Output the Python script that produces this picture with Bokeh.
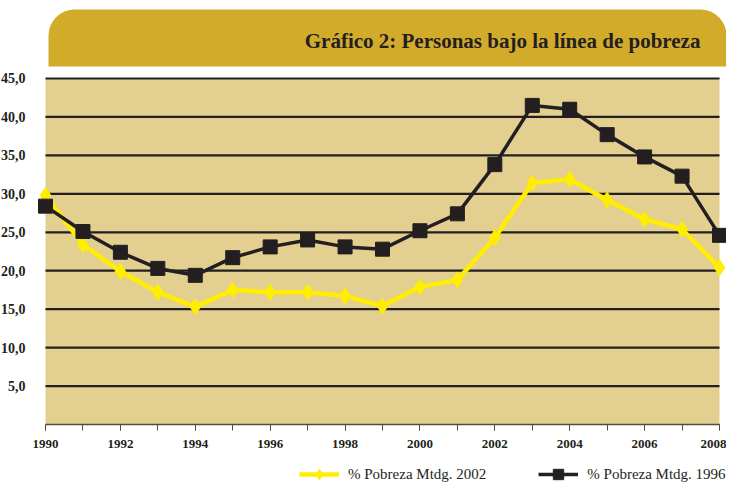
from bokeh.plotting import figure
from bokeh.models import (BoxAnnotation, Label, Legend, LegendItem, FixedTicker, Range1d)
from bokeh.embed import file_html
from bokeh.resources import INLINE

years = list(range(1990, 2009))
pobreza_2002 = [29.8, 23.4, 19.9, 17.2, 15.3, 17.5, 17.2, 17.2, 16.7, 15.4,
                17.9, 18.8, 24.3, 31.4, 31.9, 29.2, 26.7, 25.4, 20.4]
pobreza_1996 = [28.4, 25.1, 22.4, 20.3, 19.4, 21.7, 23.1, 24.0, 23.1, 22.8,
                25.2, 27.4, 33.8, 41.5, 41.0, 37.7, 34.8, 32.3, 24.6]
y_ticks = [5, 10, 15, 20, 25, 30, 35, 40, 45]
y_tick_labels = ["5,0", "10,0", "15,0", "20,0", "25,0", "30,0", "35,0", "40,0", "45,0"]
x_label_years = list(range(1990, 2009, 2))
title_text = "Gráfico 2: Personas bajo la línea de pobreza"
series_names = ["% Pobreza Mtdg. 2002", "% Pobreza Mtdg. 1996"]

FONT = "Liberation Serif"
DARK = "#231F20"
YMAX = 55.144
YMIN = -7.803
XMIN = 1988.798
XMAX = 2008.187

p = figure(width=726, height=484, output_backend="svg", toolbar_location=None,
           x_range=Range1d(XMIN, XMAX), y_range=Range1d(YMIN, YMAX),
           min_border_left=0, min_border_right=0, min_border_top=0, min_border_bottom=0)
p.outline_line_color = None
p.background_fill_color = "white"
p.border_fill_color = "white"

# banner and plot background
p.add_layout(BoxAnnotation(left=1990.08, right=XMAX, bottom=46.56, top=53.97,
                           fill_color="#D3AB2B", fill_alpha=1, line_color=None,
                           border_radius=(26, 26, 0, 0), level="image"))
p.add_layout(BoxAnnotation(left=years[0], right=years[-1], bottom=0, top=y_ticks[-1],
                           fill_color="#E3CF8F", fill_alpha=1, line_color=None,
                           level="image"))
p.add_layout(Label(x=2007.49, y=49.94, text=title_text, text_align="right",
                   text_baseline="middle", text_font=FONT, text_font_style="bold",
                   text_font_size="21px", text_color=DARK))

# horizontal grid lines between first and last year
p.grid.visible = False
p.segment(x0=[years[0]] * len(y_ticks), x1=[years[-1]] * len(y_ticks),
          y0=y_ticks, y1=y_ticks, line_color=DARK, line_width=2.2)

# axes (placed at the data origin inside the frame)
p.yaxis.fixed_location = years[0]
p.yaxis.ticker = FixedTicker(ticks=y_ticks)
p.yaxis.major_label_overrides = {t: l for t, l in zip(y_ticks, y_tick_labels)}
p.yaxis.axis_line_color = None
p.yaxis.major_tick_line_color = None
p.yaxis.minor_tick_line_color = None
p.yaxis.major_label_standoff = 14
p.yaxis.major_label_text_font = FONT
p.yaxis.major_label_text_font_style = "bold"
p.yaxis.major_label_text_font_size = "14px"
p.yaxis.major_label_text_color = DARK

p.xaxis.fixed_location = 0
p.xaxis.ticker = FixedTicker(ticks=x_label_years, minor_ticks=years)
p.xaxis.bounds = (years[0], years[-1])
p.xaxis.axis_line_color = "#5a4a3a"
p.xaxis.axis_line_width = 1.5
p.xaxis.major_tick_line_color = "#5a4a3a"
p.xaxis.minor_tick_line_color = "#5a4a3a"
p.xaxis.major_tick_in = 0
p.xaxis.major_tick_out = 6
p.xaxis.minor_tick_in = 0
p.xaxis.minor_tick_out = 6
p.xaxis.major_label_standoff = 9
p.xaxis.major_label_text_font = FONT
p.xaxis.major_label_text_font_style = "bold"
p.xaxis.major_label_text_font_size = "13px"
p.xaxis.major_label_text_color = DARK

# series
YEL = "#FFEE00"
l1 = p.line(years, pobreza_2002, line_color=YEL, line_width=4.5)
s1 = p.scatter(years, pobreza_2002, marker="diamond", size=16, fill_color=YEL, line_color=YEL)
l2 = p.line(years, pobreza_1996, line_color=DARK, line_width=3.5)
s2 = p.scatter(years, pobreza_1996, marker="square", size=14, fill_color=DARK, line_color=DARK)

legend = Legend(items=[LegendItem(label=series_names[0], renderers=[l1, s1]),
                       LegendItem(label=series_names[1], renderers=[l2, s2])],
                orientation="horizontal", location=(299, -3),
                glyph_width=40, glyph_height=26, label_standoff=9, spacing=52,
                padding=0, margin=0, border_line_color=None, background_fill_alpha=0,
                label_text_font=FONT, label_text_font_size="15px", label_text_color=DARK)
p.add_layout(legend)

open("out.html", "w").write(file_html(p, INLINE))
